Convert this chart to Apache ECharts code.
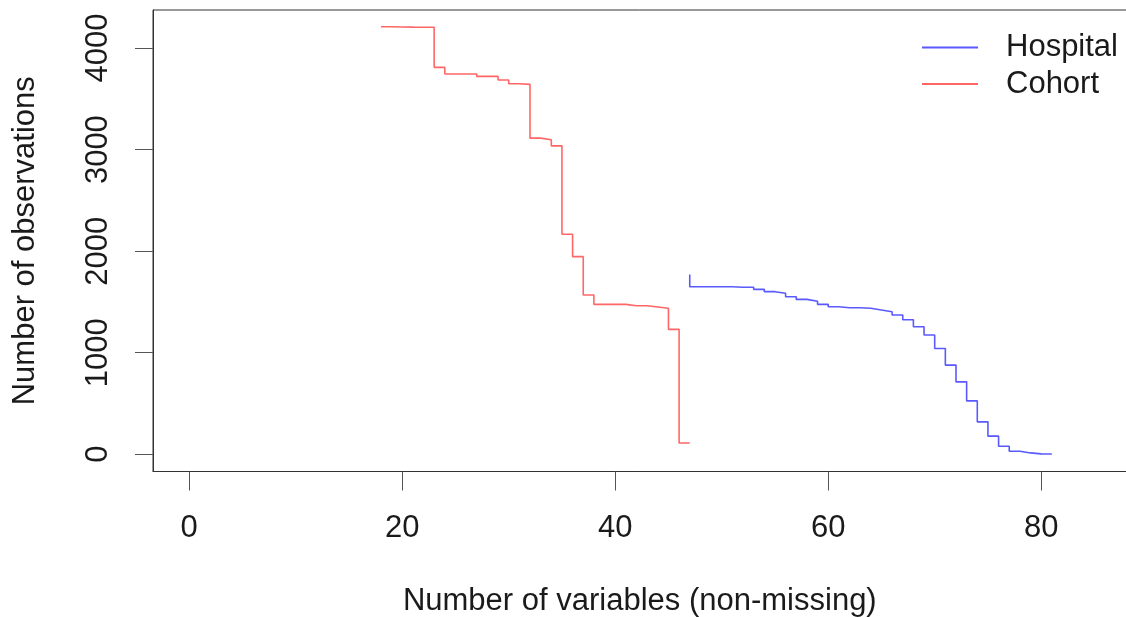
<!DOCTYPE html>
<html>
<head>
<meta charset="utf-8">
<script src="https://cdn.jsdelivr.net/npm/echarts@6/dist/echarts.min.js"></script>
<style>
html,body{margin:0;padding:0;background:#fff;}
#c{width:1126px;height:617px;}
</style>
</head>
<body>
<div id="c"></div>
<script>
// Data
const cohortX = [18,19,20,21,22,23,24,25,26,27,28,29,30,31,32,33,34,35,36,37,38,39,40,41,42,43,44,45,46,47];
const cohortY = [4210,4208,4206,4205,4205,3810,3745,3745,3745,3721,3721,3685,3649,3643,3113,3097,3037,2167,1946,1568,1476,1476,1476,1463,1463,1450,1437,1230,111,111];
const hospitalX = [47,47,48,49,50,51,52,53,54,55,56,57,58,59,60,61,62,63,64,65,66,67,68,69,70,71,72,73,74,75,76,77,78,79,80,81];
const hospitalY = [1770,1650,1650,1650,1650,1644,1644,1624,1601,1585,1551,1525,1506,1476,1453,1443,1443,1437,1420,1404,1371,1325,1255,1174,1042,878,713,526,319,178,79,30,13,4,2,2];
const xTicks = [0,20,40,60,80];
const yTicks = [0,1000,2000,3000,4000];
const seriesNames = ['Hospital','Cohort'];
const xTitle = 'Number of variables (non-missing)';
const yTitle = 'Number of observations';

const FONT = '"Liberation Sans", Arial, Helvetica, sans-serif';
const TXT = '#1a1a1a';
const FS = 31;

const chart = echarts.init(document.getElementById('c'), null, {renderer:'canvas'});
chart.setOption({
  animation:false,
  backgroundColor:'#fff',
  textStyle:{fontFamily:FONT},
  grid:{left:153, width:973.6, top:10, height:461.5, show:true, borderColor:'#333', borderWidth:1,
        backgroundColor:'transparent', containLabel:false, outerBoundsMode:'none'},
  legend:{
    orient:'vertical', left:922, top:30.5, padding:0, itemGap:2.6,
    itemWidth:56, itemHeight:2, icon:'rect',
    data:seriesNames,
    textStyle:{fontSize:FS, lineHeight:31, color:TXT, fontFamily:FONT, padding:[3,0,0,23]}
  },
  xAxis:{
    type:'value', min:-3.4, max:88.02,
    axisLine:{show:true, onZero:false, lineStyle:{color:'#333', width:1}},
    splitLine:{show:false},
    axisTick:{show:true, length:19, customValues:xTicks, lineStyle:{color:'#555', width:1}},
    axisLabel:{customValues:xTicks, margin:41, fontSize:FS, color:TXT, fontFamily:FONT, formatter:(v)=>String(v)},
    name:xTitle, nameLocation:'middle', nameGap:114,
    nameTextStyle:{fontSize:FS, color:TXT, fontFamily:FONT}
  },
  yAxis:{
    type:'value', min:-170, max:4375,
    axisLine:{show:true, onZero:false, lineStyle:{color:'#333', width:1}},
    splitLine:{show:false},
    axisTick:{show:true, length:18, customValues:yTicks, lineStyle:{color:'#555', width:1}},
    axisLabel:{customValues:yTicks, rotate:90, margin:39, fontSize:FS, color:TXT, fontFamily:FONT, formatter:(v)=>String(v)},
    name:yTitle, nameLocation:'middle', nameGap:112, nameRotate:90,
    nameTextStyle:{fontSize:FS, color:TXT, fontFamily:FONT}
  },
  series:[
    {
      name:seriesNames[0], type:'line', step:'end', symbol:'none',
      color:'rgba(0,0,255,0.65)',
      lineStyle:{width:1.6, color:'rgba(0,0,255,0.65)'},
      data:hospitalX.map((x,i)=>[x,hospitalY[i]])
    },
    {
      name:seriesNames[1], type:'line', step:'end', symbol:'none',
      color:'rgba(255,0,0,0.6)',
      lineStyle:{width:1.6, color:'rgba(255,0,0,0.6)'},
      data:cohortX.map((x,i)=>[x,cohortY[i]])
    }
  ]
});
</script>
</body>
</html>
